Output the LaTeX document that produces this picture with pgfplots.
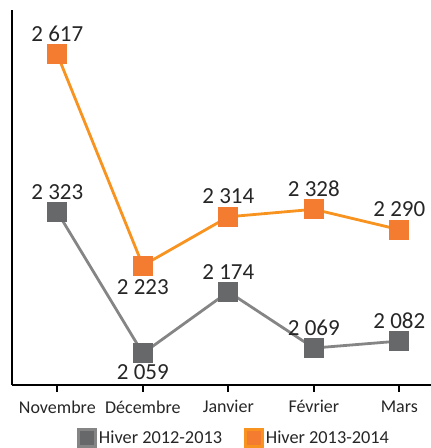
\documentclass[border=0pt]{standalone}
\usepackage{pgfplots}
\pgfplotsset{compat=1.18}
\usepackage{fontspec}
\setmainfont{Carlito}
\definecolor{grayline}{HTML}{858585}
\definecolor{graymark}{HTML}{67686A}
\definecolor{orline}{HTML}{F7931E}
\definecolor{ormark}{HTML}{F47C30}
\begin{document}
\begin{tikzpicture}
\useasboundingbox (-12pt,-63pt) rectangle (419pt,385pt);
\begin{axis}[
  scale only axis,
  width=419pt, height=375pt,
  at={(0pt,0pt)}, anchor=south west,
  xmin=-0.53, xmax=4.37,
  ymin=2000, ymax=2700,
  axis x line*=bottom, axis y line*=left,
  axis line style={line width=1.8pt, black, -},
  ytick=\empty,
  xtick={0,1,2,3,4},
  xticklabels={Novembre,Décembre,Janvier,Février,Mars},
  tick align=outside,
  major tick length=7pt,
  xtick style={line width=1.8pt, black},
  xticklabel style={font=\fontsize{18}{20}\selectfont, text=black!85, yshift=-5pt},
  clip=false,
  legend columns=2,
  legend style={draw=none, at={(0.53,-0.142)}, anchor=center,
    font=\fontsize{18.3}{20}\selectfont, text=black!85,
    /tikz/every even column/.append style={column sep=20pt}},
  legend image code/.code={\fill[#1] (0pt,-8.5pt) rectangle (17pt,8.5pt);},
  lblabove/.style={draw=none, mark=none, forget plot, nodes near coords, point meta=explicit symbolic,
    every node near coord/.append style={font=\fontsize{23}{25}\selectfont, text=black!85, inner sep=1pt, anchor=south, yshift=11.5pt}},
  lblbelow/.style={draw=none, mark=none, forget plot, nodes near coords, point meta=explicit symbolic,
    every node near coord/.append style={font=\fontsize{23}{25}\selectfont, text=black!85, inner sep=1pt, anchor=north, yshift=#1}},
]
\addplot[color=grayline, line width=2.8pt, mark=square*, mark size=9.5pt,
  mark options={fill=graymark, draw=graymark, line width=0pt},
  legend image post style={fill=graymark}]
  coordinates {(0,2323) (1,2059) (2,2174) (3,2069) (4,2082)};
\addlegendentry{Hiver 2012-2013}
\addplot[color=orline, line width=2.8pt, mark=square*, mark size=9.5pt,
  mark options={fill=ormark, draw=ormark, line width=0pt},
  legend image post style={fill=ormark}]
  coordinates {(0,2617) (1,2223) (2,2314) (3,2328) (4,2290)};
\addlegendentry{Hiver 2013-2014}
\addplot[lblabove] coordinates {(0,2323) [2 323] (2,2174) [2 174] (3,2069) [2 069] (4,2082) [2 082]};
\addplot[lblbelow=-9.5pt] coordinates {(1,2059) [2 059]};
\addplot[lblabove] coordinates {(0,2617) [2 617] (2,2314) [2 314] (3,2328) [2 328] (4,2290) [2 290]};
\addplot[lblbelow=-13pt] coordinates {(1,2223) [2 223]};
\end{axis}
\end{tikzpicture}
\end{document}
